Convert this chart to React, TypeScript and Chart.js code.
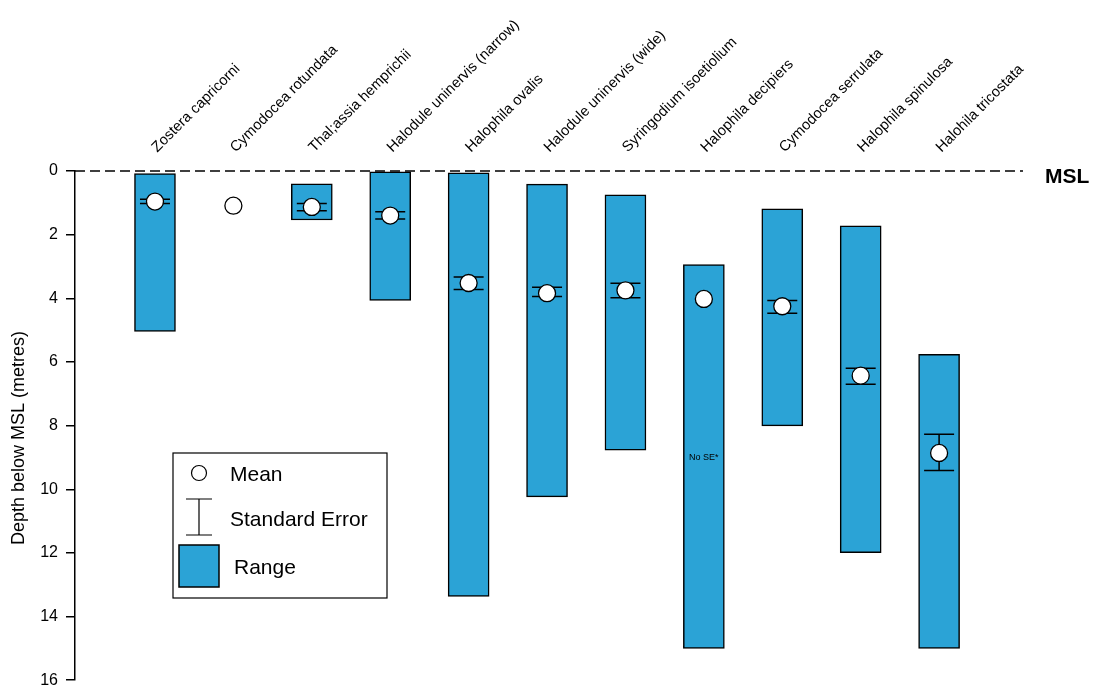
import React, { useEffect, useRef } from "react";
import { Chart, registerables } from "chart.js";

Chart.register(...registerables);

const species = [
  "Zostera capricorni",
  "Cymodocea rotundata",
  "Thal;assia hemprichii",
  "Halodule uninervis (narrow)",
  "Halophila ovalis",
  "Halodule uninervis (wide)",
  "Syringodium isoetiolium",
  "Halophila decipiers",
  "Cymodocea serrulata",
  "Halophila spinulosa",
  "Halohila tricostata",
];
const rangeMin: (number | null)[] = [0.08, null, 0.4, 0.03, 0.06, 0.41, 0.75, 2.94, 1.19, 1.72, 5.76];
const rangeMax: (number | null)[] = [5.04, null, 1.54, 4.07, 13.37, 10.24, 8.77, 15.0, 8.01, 11.99, 15.0];
const meanDepth = [0.96, 1.09, 1.13, 1.4, 3.52, 3.84, 3.75, 4.02, 4.25, 6.43, 8.86];
const seLow: (number | null)[] = [0.89, null, 1.02, 1.28, 3.33, 3.65, 3.53, null, 4.07, 6.2, 8.27];
const seHigh: (number | null)[] = [1.02, null, 1.25, 1.51, 3.72, 3.94, 3.98, null, 4.47, 6.7, 9.41];
const yTicks = [0, 2, 4, 6, 8, 10, 12, 14, 16];
const yTitle = "Depth below MSL (metres)";
const noSeIndex = 7;
const noSeDepth = 9.0;

const BLUE = "#2BA3D6";
const FONT = "'Liberation Sans', Arial, sans-serif";

export default function App() {
  const ref = useRef<HTMLCanvasElement | null>(null);

  useEffect(() => {
    document.body.style.margin = "0";
    const canvas = ref.current;
    if (!canvas) return;
    Chart.defaults.font.family = FONT;
    Chart.defaults.color = "#000";

    const barData = species
      .map((_, i) =>
        rangeMin[i] == null ? null : { x: i, y: [rangeMin[i] as number, rangeMax[i] as number] }
      )
      .filter((d) => d !== null);
    const meanData = species.map((_, i) => ({ x: i, y: meanDepth[i] }));

    const decor = {
      id: "decor",
      beforeDatasetsDraw(chart: any) {
        const { ctx, chartArea, scales } = chart;
        const y0 = scales.y.getPixelForValue(0);
        ctx.save();
        ctx.strokeStyle = "#000";
        ctx.lineWidth = 1.5;
        ctx.setLineDash([10, 5]);
        ctx.beginPath();
        ctx.moveTo(chartArea.left, y0);
        ctx.lineTo(chartArea.right, y0);
        ctx.stroke();
        ctx.setLineDash([]);
        ctx.fillStyle = "#000";
        ctx.font = `bold 21px ${FONT}`;
        ctx.textBaseline = "middle";
        ctx.textAlign = "left";
        ctx.fillText("MSL", chartArea.right + 22, y0 + 6);
        // y-axis title
        ctx.font = `18px ${FONT}`;
        ctx.textAlign = "center";
        ctx.translate(19, 438);
        ctx.rotate(-Math.PI / 2);
        ctx.fillText(yTitle, 0, 0);
        ctx.restore();
      },
      afterDatasetDraw(chart: any, args: any) {
        if (args.index !== 0) return;
        const { ctx, scales } = chart;
        ctx.save();
        ctx.strokeStyle = "#000";
        ctx.lineWidth = 1.5;
        species.forEach((_, i) => {
          const lo = seLow[i];
          const hi = seHigh[i];
          if (lo == null || hi == null) return;
          const x = scales.x.getPixelForValue(i);
          const yl = scales.y.getPixelForValue(lo);
          const yh = scales.y.getPixelForValue(hi);
          ctx.beginPath();
          ctx.moveTo(x, yl);
          ctx.lineTo(x, yh);
          ctx.moveTo(x - 15, yl);
          ctx.lineTo(x + 15, yl);
          ctx.moveTo(x - 15, yh);
          ctx.lineTo(x + 15, yh);
          ctx.stroke();
        });
        ctx.restore();
      },
      afterDraw(chart: any) {
        const { ctx, scales } = chart;
        ctx.save();
        ctx.fillStyle = "#000";
        ctx.font = `9px ${FONT}`;
        ctx.textAlign = "center";
        ctx.textBaseline = "middle";
        ctx.fillText(
          "No SE*",
          scales.x.getPixelForValue(noSeIndex),
          scales.y.getPixelForValue(noSeDepth)
        );
        // Legend box
        ctx.lineWidth = 1.2;
        ctx.strokeStyle = "#000";
        ctx.fillStyle = "#fff";
        ctx.fillRect(173, 453, 214, 145);
        ctx.strokeRect(173, 453, 214, 145);
        ctx.beginPath();
        ctx.arc(199, 473, 7.5, 0, Math.PI * 2);
        ctx.fillStyle = "#fff";
        ctx.fill();
        ctx.stroke();
        ctx.beginPath();
        ctx.moveTo(199, 499);
        ctx.lineTo(199, 535);
        ctx.moveTo(186, 499);
        ctx.lineTo(212, 499);
        ctx.moveTo(186, 535);
        ctx.lineTo(212, 535);
        ctx.stroke();
        ctx.fillStyle = BLUE;
        ctx.fillRect(179, 545, 40, 42);
        ctx.lineWidth = 1.5;
        ctx.strokeRect(179, 545, 40, 42);
        ctx.fillStyle = "#000";
        ctx.font = `21px ${FONT}`;
        ctx.textAlign = "left";
        ctx.textBaseline = "middle";
        ctx.fillText("Mean", 230, 475);
        ctx.fillText("Standard Error", 230, 520);
        ctx.fillText("Range", 234, 568);
        ctx.restore();
      },
    };

    const chart = new Chart(canvas, {
      type: "bar",
      data: {
        datasets: [
          {
            type: "bar",
            label: "Range",
            data: barData as any,
            backgroundColor: BLUE,
            borderColor: "#000",
            borderWidth: 1.5,
            borderSkipped: false,
            barThickness: 41,
            grouped: false,
            order: 2,
          } as any,
          {
            type: "scatter",
            label: "Mean",
            data: meanData,
            pointRadius: 8.5,
            pointBackgroundColor: "#fff",
            pointBorderColor: "#000",
            pointBorderWidth: 1.3,
            order: 1,
          } as any,
        ],
      },
      options: {
        responsive: false,
        animation: false,
        layout: { padding: { left: 0, top: 0, right: 74, bottom: 6 } },
        plugins: { legend: { display: false }, tooltip: { enabled: false } },
        scales: {
          x: {
            type: "linear",
            position: "top",
            offset: false,
            min: -1.02,
            max: 11.07,
            grid: { display: false, offset: false },
            border: { display: false },
            afterBuildTicks: (scale: any) => {
              scale.ticks = species.map((_, i) => ({ value: i }));
            },
            afterFit: (scale: any) => {
              scale.height = 171;
              scale.paddingLeft = 0;
              scale.paddingRight = 0;
            },
            ticks: {
              autoSkip: false,
              minRotation: 45,
              maxRotation: 45,
              padding: 7,
              labelOffset: 12,
              color: "#000",
              font: { size: 14.7, family: FONT },
              callback: (v: any) => species[v as number] ?? "",
            },
          },
          y: {
            type: "linear",
            reverse: true,
            min: 0,
            max: 16,
            afterBuildTicks: (scale: any) => {
              scale.ticks = yTicks.map((v) => ({ value: v }));
            },
            afterFit: (scale: any) => {
              scale.width = 75;
              scale.paddingTop = 0;
              scale.paddingBottom = 0;
            },
            grid: {
              drawOnChartArea: false,
              drawTicks: true,
              tickLength: 9,
              color: "#000",
              lineWidth: 1.5,
            },
            border: { display: true, color: "#000", width: 1.5 },
            ticks: {
              padding: 8,
              color: "#000",
              font: { size: 16, family: FONT, lineHeight: 1.0 },
            },
          },
        },
      } as any,
      plugins: [decor],
    });
    return () => chart.destroy();
  }, []);

  return (
    <div style={{ width: 1097, height: 690 }}>
      <canvas ref={ref} width={1097} height={690} style={{ display: "block" }} />
    </div>
  );
}
